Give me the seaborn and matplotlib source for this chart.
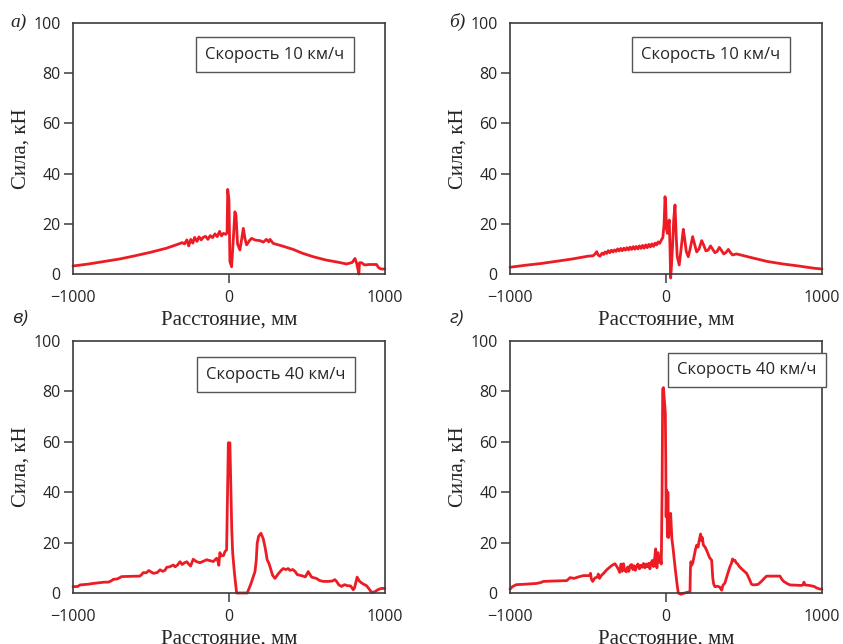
import numpy as np
import pandas as pd
import matplotlib
matplotlib.use("Agg")
import matplotlib.pyplot as plt
import seaborn as sns

# DATA
xa = [-1000, -900, -800, -700, -600, -500, -400, -330, -300, -285, -270, -258, -245, -232,
      -220, -205, -192, -178, -165, -150, -135, -120, -105, -90, -75, -60, -48, -35, -20,
      -12, -8, 0, 6, 17, 28, 38, 45, 55, 70, 82, 92, 103, 113, 130, 145, 170, 199, 220,
      240, 255, 263, 284, 340, 412, 470, 540, 620, 700, 754, 790, 808, 820, 830, 833, 837,
      850, 870, 900, 946, 960, 975, 1000]
ya = [3.2, 4.0, 5.0, 6.0, 7.3, 8.7, 10.3, 11.8, 12.5, 12.0, 13.6, 11.2, 13.8, 12.3,
      14.6, 13.0, 14.8, 13.6, 14.6, 15.0, 13.8, 15.3, 14.5, 16.0, 14.9, 17.0, 15.2, 16.2, 15.8,
      16.5, 33.7, 29.5, 5.0, 2.9, 14.0, 24.8, 23.5, 12.0, 9.6, 14.0, 18.2, 14.0, 11.6, 13.2, 14.2, 13.5, 13.3, 12.7,
      13.8, 12.8, 13.8, 12.2, 11.2, 9.8, 8.3, 6.9, 5.6, 4.7, 4.0, 4.6, 6.2, 4.0, 1.0, 0.0, 4.5,
      4.5, 3.6, 3.8, 3.8, 2.5, 2.0, 2.0]

xb = [-1000, -900, -800, -700, -600, -500, -466, -455, -444, -435, -423, -410, -400, -390,
      -380, -370, -360, -350, -340, -330, -320, -310, -300, -290, -280, -270, -260, -250,
      -240, -230, -220, -210, -200, -190, -180, -170, -160, -150, -140, -130, -120, -110,
      -100, -90, -80, -70, -60, -50, -40, -30, -20, -12, -6, -2, 3, 9, 15, 21, 26, 30, 36,
      43, 50, 58, 65, 72, 85, 97, 111, 120, 130, 143, 155, 171, 183, 197, 212, 229, 242,
      256, 270, 286, 298, 314, 328, 342, 355, 370, 385, 400, 414, 427, 440, 453, 550, 650,
      750, 850, 950, 1000]
yb = [2.7, 3.5, 4.2, 5.1, 6.0, 7.1, 7.3, 8.0, 8.9, 7.6, 7.1, 8.3, 7.8, 8.8,
      8.2, 9.3, 8.5, 9.5, 8.8, 9.6, 9.0, 10.0, 9.2, 10.2, 9.3, 10.3, 9.5, 10.5,
      9.6, 10.7, 9.8, 10.9, 9.9, 11.0, 10.0, 11.2, 10.2, 11.4, 10.3, 11.6, 10.5, 11.8,
      10.8, 12.0, 11.0, 12.3, 11.6, 12.8, 12.2, 13.5, 14.5, 20.0, 30.8, 28.0, 18.0, 16.2, 19.0, 21.5, 10.0, -1.6, 4.0,
      12.2, 22.0, 27.5, 16.0, 7.0, 3.6, 10.0, 17.8, 14.0, 9.0, 6.9, 10.0, 14.9, 12.0, 8.8, 10.0, 13.3, 11.5,
      9.2, 9.5, 11.2, 10.0, 8.5, 9.0, 10.6, 9.5, 8.0, 8.6, 9.8, 8.5, 7.6, 7.8, 8.0, 6.5, 5.0,
      4.0, 3.2, 2.3, 2.0]

xc = [-1000, -970, -955, -900, -870, -800, -774, -755, -742, -715, -688, -640, -571, -560,
      -549, -530, -515, -500, -485, -460, -442, -425, -410, -399, -380, -357, -345, -330,
      -314, -300, -285, -270, -260, -246, -229, -210, -186, -160, -143, -120, -100, -79,
      -70, -65, -58, -50, -35, -25, -15, -4, 6, 11, 18, 24, 35, 49, 117, 140, 167, 175,
      181, 190, 205, 220, 232, 245, 258, 280, 295, 315, 335, 348, 365, 380, 391, 410, 425,
      438, 470, 490, 500, 508, 518, 530, 560, 580, 604, 640, 665, 679, 690, 705, 722, 740,
      760, 780, 797, 805, 822, 835, 850, 866, 882, 900, 915, 935, 955, 975, 1000]
yc = [2.5, 2.6, 3.2, 3.5, 3.8, 4.3, 4.3, 4.8, 5.4, 5.6, 6.5, 6.6, 6.7, 7.3,
      8.1, 8.0, 8.9, 8.4, 7.8, 8.1, 9.2, 8.6, 9.0, 10.2, 10.4, 11.1, 10.4, 11.1,
      12.4, 11.3, 12.0, 12.4, 11.6, 10.7, 13.4, 12.5, 12.0, 12.7, 13.2, 12.8, 12.5, 13.8,
      12.5, 11.0, 16.0, 14.7, 14.9, 16.5, 17.1, 59.6, 59.6, 45.0, 25.0, 15.7, 8.0, 0.0, 0.0, 3.5, 8.5, 13.0,
      19.7, 22.5, 23.7, 21.5, 18.0, 13.2, 11.5, 7.0, 5.8, 7.5, 9.0, 9.7, 9.3, 9.7, 9.0, 9.3, 8.5,
      7.3, 6.8, 6.4, 7.5, 8.5, 7.5, 6.3, 5.8, 5.0, 4.6, 4.6, 4.8, 5.3, 4.6, 3.2, 2.6, 3.3,
      2.9, 2.8, 1.3, 2.0, 6.3, 4.8, 4.0, 3.4, 2.9, 1.5, 0.2, 0.5, 1.3, 1.8, 1.8]

xd = [-1000, -985, -960, -900, -829, -800, -786, -700, -636, -625, -615, -590, -560, -530,
      -487, -484, -478, -470, -455, -440, -434, -426, -415, -400, -380, -365, -350, -340,
      -327, -315, -305, -297, -288, -281, -272, -265, -255, -245, -238, -230, -220, -212,
      -204, -196, -188, -180, -170, -162, -152, -144, -135, -126, -118, -110, -103, -95,
      -88, -80, -72, -66, -62, -58, -54, -50, -45, -40, -30, -25, -21, -16, -12, -4, -1,
      1, 4, 7, 9, 12, 16, 21, 25, 30, 35, 38, 45, 58, 70, 79, 95, 120, 140, 154, 157, 160,
      165, 172, 180, 190, 197, 206, 212, 222, 228, 233, 240, 250, 261, 270, 280, 293, 300,
      306, 314, 330, 345, 357, 365, 378, 395, 410, 420, 427, 432, 442, 450, 460, 470, 490,
      517, 535, 548, 560, 590, 612, 630, 645, 700, 731, 742, 755, 775, 795, 840, 870, 880,
      885, 890, 920, 950, 966, 985, 1000]
yd = [1.5, 2.5, 3.3, 3.5, 3.8, 4.2, 4.6, 4.8, 4.9, 5.5, 6.1, 5.8, 6.4, 6.9,
      6.9, 7.8, 5.5, 4.6, 6.0, 6.3, 7.5, 5.8, 6.9, 7.8, 9.2, 10.0, 10.8, 11.2,
      11.6, 10.5, 9.4, 8.2, 11.5, 8.6, 11.6, 9.0, 8.4, 10.3, 8.6, 10.9, 11.3, 9.3,
      10.8, 9.0, 10.5, 11.5, 9.6, 11.0, 10.2, 11.7, 10.0, 11.5, 10.4, 11.8, 9.6, 12.0,
      12.9, 10.5, 14.0, 17.5, 13.0, 10.0, 15.5, 16.0, 12.2, 14.5, 11.5, 40.0, 81.0, 81.5, 78.0, 71.2, 50.0,
      30.3, 40.9, 35.0, 22.3, 40.0, 22.0, 24.0, 27.0, 31.6, 25.0, 21.4, 18.0, 10.4, 4.0, 0.0, -0.5, 0.0, 0.3, 0.5, 10.0, 12.4,
      11.0, 12.0, 14.5, 17.5, 19.0, 18.2, 20.5, 23.4, 20.8, 22.0, 19.0, 18.3, 16.9, 15.5, 14.0, 13.0, 6.0,
      3.5, 2.5, 2.7, 2.3, 1.1, 3.0, 4.0, 7.5, 10.4, 11.8, 13.5, 12.8, 13.0, 12.0, 11.5, 10.5, 9.3,
      7.8, 5.5, 3.5, 3.2, 3.4, 4.6, 5.8, 6.7, 6.7, 6.7, 5.5, 4.6, 3.8, 3.2, 3.1, 3.0, 3.3,
      4.3, 3.2, 3.0, 2.6, 2.0, 1.6, 1.5]

panel_letters = ["а)", "б)", "в)", "г)"]
speed_labels = ["Скорость 10 км/ч", "Скорость 10 км/ч", "Скорость 40 км/ч", "Скорость 40 км/ч"]
x_ticks = [-1000, 0, 1000]
x_ticklabels = ["\u22121000", "0", "1000"]
y_ticks = [0, 20, 40, 60, 80, 100]

sns.set_style("ticks")
plt.rcParams['font.family'] = ['Open Sans', 'DejaVu Sans']
plt.rcParams['axes.edgecolor'] = '#3c3c3c'
plt.rcParams['axes.linewidth'] = 1.2

fig = plt.figure(figsize=(8.43, 6.44), dpi=100)

# panel layout in figure fractions
positions = [[0.0866, 0.5745, 0.370, 0.3898],
             [0.605, 0.5745, 0.370, 0.3898],
             [0.0866, 0.0792, 0.370, 0.3913],
             [0.605, 0.0792, 0.370, 0.3913]]
box_xy = [(0.647, 0.874), (0.644, 0.874), (0.651, 0.867), (0.759, 0.885)]
letter_xy = [(0.0225, 0.966), (0.542, 0.966), (0.0237, 0.506), (0.542, 0.506)]
letter_family = ['Liberation Serif', 'Liberation Serif', 'Open Sans', 'Open Sans']

red = '#ed1c24'
serif = 'Liberation Serif'

for i, (xs, ys) in enumerate([(xa, ya), (xb, yb), (xc, yc), (xd, yd)]):
    ax = fig.add_axes(positions[i])
    df = pd.DataFrame({'x': xs, 'y': ys})
    sns.lineplot(data=df, x='x', y='y', ax=ax, color=red, lw=2.0,
                 estimator=None, sort=False, clip_on=False)
    ax.set_xlim(-1000, 1000)
    ax.set_ylim(0, 100)
    ax.set_xticks(x_ticks)
    ax.set_xticklabels(x_ticklabels)
    ax.set_yticks(y_ticks)
    ax.tick_params(axis='both', labelsize=11.5, length=6.5, width=1.1, color='#3c3c3c')
    ax.tick_params(axis='x', pad=5)
    ax.tick_params(axis='y', pad=2.5)
    # no tick marks at the corners
    for t in [ax.xaxis.get_major_ticks()[0], ax.xaxis.get_major_ticks()[-1],
              ax.yaxis.get_major_ticks()[0], ax.yaxis.get_major_ticks()[-1]]:
        t.tick1line.set_visible(False)
    ax.set_xlabel("Расстояние, мм", family=serif, fontsize=15, labelpad=3)
    ax.set_ylabel("Сила, кН", family=serif, fontsize=15, labelpad=2)
    ax.text(box_xy[i][0], box_xy[i][1], speed_labels[i], transform=ax.transAxes,
            ha='center', va='center', fontsize=12,
            bbox=dict(boxstyle='square,pad=0.55', fc='white', ec='#555555', lw=1.0))
    fig.text(letter_xy[i][0], letter_xy[i][1], panel_letters[i], ha='center', va='center',
             fontsize=14, style='italic', family=letter_family[i])

fig.savefig("out.png", dpi=100)
